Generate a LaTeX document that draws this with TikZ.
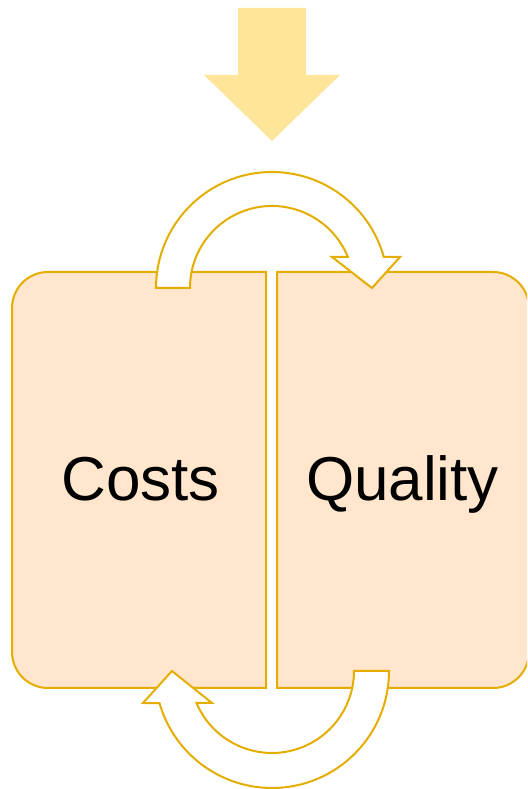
\documentclass[tikz,border=0pt]{standalone}
\usepackage{fontspec}
\setmainfont{Liberation Sans}
\definecolor{gold}{HTML}{E5AD00}
\definecolor{boxfill}{HTML}{FFE6CC}
\definecolor{arrowfill}{HTML}{FFE599}
\begin{document}
\begin{tikzpicture}[x=1pt,y=1pt,
  panel/.style={draw=gold,fill=boxfill,line width=2pt},
  cyclearrow/.style={draw=gold,fill=white,line width=2pt,line join=miter},
  label/.style={font=\fontsize{62}{74}\selectfont,anchor=base,inner sep=0pt}]
\useasboundingbox (0,0) rectangle (527,789);
\begin{scope}
\clip (0,0) rectangle (527,789);
% down arrow
\fill[arrowfill] (238,781) -- (306,781) -- (306,714) -- (340,714) -- (272,648) -- (204,714) -- (238,714) -- cycle;
% boxes
\path[panel] (266,101) -- (266,517) -- (48,517) arc[start angle=90,end angle=180,radius=36] -- (12,137) arc[start angle=180,end angle=270,radius=36] -- cycle;
\path[panel] (277,101) -- (277,517) -- (493,517) arc[start angle=90,end angle=0,radius=36] -- (529,137) arc[start angle=0,end angle=-90,radius=36] -- cycle;
\node[label] (costs) at (140.5,288) {Costs};
\node[label] (quality) at (402.5,288) {Quality};
% top curved arrow
\path[cyclearrow] (156,501) arc[start angle=180,end angle=15.5,radius=116] -- (400,532) -- (372,501) -- (332,532) -- (347.9,532) arc[start angle=22.2,end angle=180,radius=82] -- cycle;
% bottom curved arrow
\path[cyclearrow] (389,118) arc[start angle=0,end angle=-164.1,radius=117] -- (143,86) -- (172,118) -- (212,86) -- (196.5,86) arc[start angle=-157,end angle=0,radius=82] -- cycle;
\end{scope}
\end{tikzpicture}
\end{document}
